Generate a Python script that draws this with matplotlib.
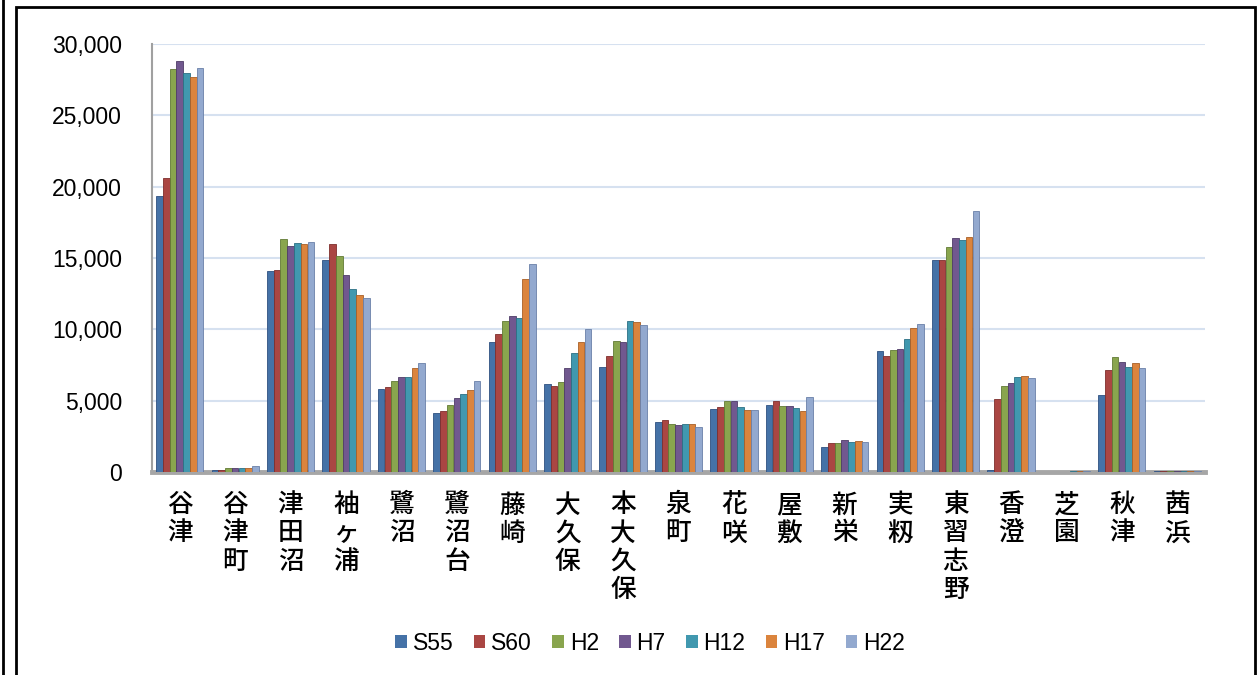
import matplotlib
matplotlib.use("Agg")
import matplotlib.pyplot as plt
import numpy as np
from matplotlib.patches import Patch, Rectangle
from matplotlib.lines import Line2D
from matplotlib.ticker import FuncFormatter

categories = ["谷津", "谷津町", "津田沼", "袖ヶ浦", "鷺沼", "鷺沼台", "藤崎", "大久保", "本大久保",
              "泉町", "花咲", "屋敷", "新栄", "実籾", "東習志野", "香澄", "芝園", "秋津", "茜浜"]
series_names = ["S55", "S60", "H2", "H7", "H12", "H17", "H22"]

S55 = [19350, 150, 14110, 14840, 5800, 4120, 9080, 6180, 7330, 3490, 4400, 4680, 1760, 8470, 14840, 170, 30, 5430, 40]
S60 = [20640, 160, 14160, 16010, 5990, 4310, 9690, 6020, 8100, 3610, 4540, 4960, 2010, 8120, 14880, 5130, 30, 7140, 40]
H2 = [28250, 250, 16310, 15120, 6370, 4700, 10600, 6320, 9200, 3350, 4960, 4630, 2010, 8540, 15750, 6040, 30, 8030, 50]
H7 = [28780, 250, 15870, 13830, 6650, 5170, 10930, 7280, 9130, 3280, 4980, 4630, 2220, 8610, 16430, 6250, 30, 7720, 50]
H12 = [27970, 300, 16080, 12850, 6670, 5450, 10790, 8350, 10560, 3370, 4560, 4520, 2110, 9320, 16240, 6630, 40, 7330, 70]
H17 = [27690, 300, 15960, 12430, 7300, 5780, 13530, 9100, 10510, 3330, 4330, 4280, 2200, 10070, 16480, 6720, 40, 7610, 80]
H22 = [28290, 430, 16100, 12210, 7630, 6410, 14600, 10020, 10280, 3160, 4380, 5240, 2130, 10370, 18280, 6600, 40, 7300, 70]
yticks = [0, 5000, 10000, 15000, 20000, 25000, 30000]

series = [S55, S60, H2, H7, H12, H17, H22]
colors = ["#4572A7", "#AA4643", "#89A54E", "#71588F", "#4198AF", "#DB843D", "#93A9CF"]
edges = ["#2f5080", "#7e2f2d", "#627a35", "#4f3c68", "#2c7084", "#a85f27", "#6a80a8"]

fig = plt.figure(figsize=(12.59, 6.75), dpi=100)
W, H = 1259, 675

# frames
fig.add_artist(Line2D([2.5 / W, 2.5 / W], [0, 1], color="black", lw=2, transform=fig.transFigure))
fig.add_artist(Rectangle((16 / W, -0.05), (1255 - 16) / W, 1.05 - 7 / H, fill=False,
                         edgecolor="black", lw=2, transform=fig.transFigure))

ax = fig.add_axes([152 / W, 1 - 472 / H, (1205 - 152) / W, (472 - 44) / H])
x = np.arange(len(categories))
n = len(series)
bw = 0.122
for i, (vals, c, e) in enumerate(zip(series, colors, edges)):
    off = (i - (n - 1) / 2) * bw
    ax.bar(x + off, vals, width=bw * 0.98, color=c, edgecolor=e, linewidth=0.6,
           label=series_names[i], zorder=3)

ax.set_xlim(-0.5, len(categories) - 0.5)
ax.set_ylim(0, 30000)
ax.set_yticks(yticks)
ax.yaxis.set_major_formatter(FuncFormatter(lambda v, p: f"{int(v):,}"))
ax.tick_params(axis="y", length=0, pad=21.5, labelsize=16.5)
for lab in ax.get_yticklabels():
    lab.set_fontfamily("Liberation Sans")
ax.grid(axis="y", color="#d6e1f0", lw=1.5, zorder=0)
ax.set_axisbelow(True)

ax.set_xticks(x)
ax.set_xticklabels(["\n".join(c) for c in categories], fontfamily=["Noto Sans CJK JP", "DejaVu Sans"],
                   fontsize=18.5, fontweight="medium", va="top", linespacing=1.05)
ax.tick_params(axis="x", length=0, pad=14)

for s in ["top", "right"]:
    ax.spines[s].set_visible(False)
ax.spines["left"].set_color("#a0a0a0")
ax.spines["left"].set_linewidth(1.5)
ax.spines["bottom"].set_color("#a6a6a6")
ax.spines["bottom"].set_linewidth(3.5)

handles = [Patch(facecolor=c, edgecolor="none") for c in colors]
leg = fig.legend(handles, series_names, loc="center", bbox_to_anchor=(650 / W, 1 - 643 / H),
                 ncol=7, frameon=False, handlelength=0.5, handleheight=0.5,
                 handletextpad=0.25, columnspacing=0.9,
                 prop={"family": "Liberation Sans", "size": 16.5})

fig.savefig("out.png", dpi=100)
